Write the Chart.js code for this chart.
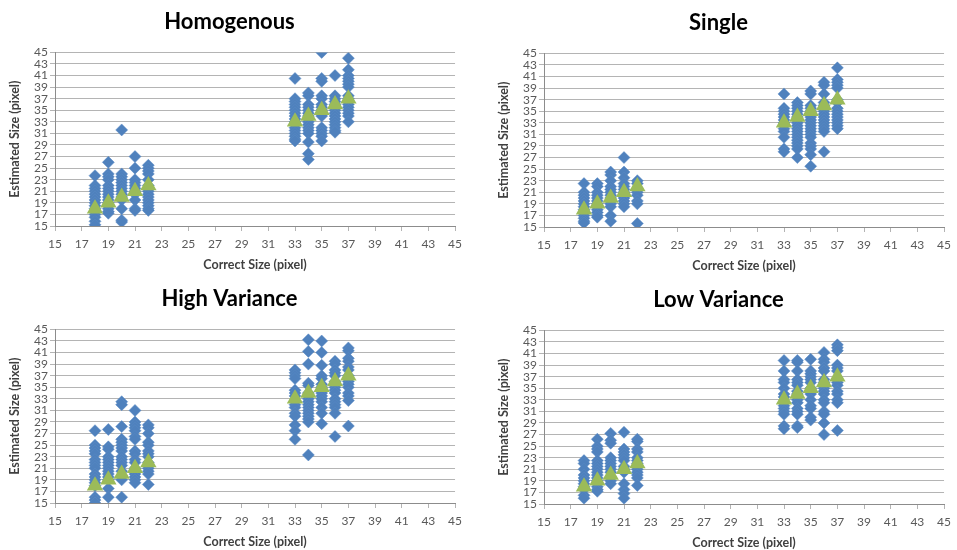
<!DOCTYPE html>
<html>
<head>
<meta charset="utf-8">
<script src="https://cdn.jsdelivr.net/npm/chart.js"></script>
<style>
  html, body { margin: 0; padding: 0; background: #fff; overflow: hidden; }
  body { width: 957px; height: 550px; position: relative; }
  canvas { position: absolute; }
</style>
</head>
<body>
<canvas id="c1" width="468" height="275" style="left:0px;top:0px"></canvas>
<canvas id="c2" width="468" height="275" style="left:489px;top:1px"></canvas>
<canvas id="c3" width="468" height="275" style="left:0px;top:277px"></canvas>
<canvas id="c4" width="468" height="275" style="left:489px;top:278px"></canvas>
<script>
// correct sizes (x) and the estimates
var correctSizes = [18, 19, 20, 21, 22, 33, 34, 35, 36, 37];
var meanEstimates = [18, 19, 20, 21, 22, 33, 34, 35, 36, 37];

var homogenous = [
  [23.7, 22, 21.5, 21, 20.5, 20, 19.5, 19, 18.5, 18, 17, 16.5, 15.8, 15.2],
  [26, 24, 23.5, 23, 22, 21.5, 21, 20.5, 20, 19.5, 19, 18.5, 18, 17.5, 17.2],
  [31.6, 24, 23.5, 23, 22.5, 22, 21.5, 21, 20.5, 20, 19.5, 18, 16, 15.7],
  [27, 25, 23, 22.5, 22, 21.5, 21, 20.5, 19.5, 18, 17.7],
  [25.5, 25, 24.5, 24, 23, 22, 21.5, 21, 20.5, 20, 19.5, 19, 18.5, 18, 17.7],
  [40.5, 37, 36.5, 36, 35.5, 35, 34.5, 34, 33.5, 33, 32, 31.5, 31, 30.5, 30, 29.7],
  [38, 37.5, 36, 35.5, 35, 34.5, 34, 33, 32.5, 32, 31.5, 31, 29.5, 27.5, 26.5],
  [45, 40.5, 40, 37.5, 37, 36, 35.5, 35, 34.5, 34, 32, 31.5, 31, 30.5, 29.7],
  [41, 37.5, 37, 36.5, 36, 35.5, 35, 34.5, 34, 33.5, 33, 32.5, 32, 31.5, 31.2],
  [44, 42, 41, 40.5, 40, 39.5, 39, 37.5, 37, 36.5, 36, 35.5, 35, 34.5, 34, 33]
];

var single = [
  [22.5, 21, 20.5, 20, 19.5, 19, 18.5, 18, 17, 16.5, 16, 15.7],
  [22.5, 22, 21, 20.5, 20, 19.5, 19, 18.5, 18, 17.5, 17, 16.7],
  [24.5, 24, 23, 22, 21.5, 21, 20.5, 20, 19.5, 19, 18.5, 17, 16],
  [27, 24.5, 23.5, 22.5, 22, 21.5, 21, 20.5, 20, 19.5, 19, 18.5],
  [23, 22.5, 21.5, 21, 20.5, 19.5, 19, 15.6],
  [38, 35.5, 35, 34.5, 34, 33.5, 33, 32, 31.5, 30.5, 28.5, 28],
  [36.5, 36, 35.5, 35, 34.5, 34, 33.5, 33, 32.5, 32, 31.5, 31, 30.5, 30, 29.5, 29, 28.5, 27],
  [38.5, 38, 36, 35.5, 35, 34.5, 34, 33.5, 33, 32.5, 32, 31.5, 31, 30.5, 29.5, 29, 28.5, 27.5, 25.5],
  [40, 39.5, 38, 36.5, 36, 35.5, 35, 34.5, 34, 33.5, 33, 32.5, 32, 31.5, 28],
  [42.5, 40.5, 40, 39.5, 39, 37, 36.5, 35.5, 35, 34.5, 34, 33.5, 33, 32.5, 32]
];

var highVariance = [
  [27.5, 25, 24.5, 24, 23.5, 22.5, 22, 21.5, 21, 20, 19.5, 19, 18.5, 18, 16, 15.5, 15],
  [27.7, 24.7, 24.3, 23, 22.5, 22, 21.5, 21, 20.5, 20, 19.5, 19, 17.5, 16],
  [32.5, 32, 28.2, 26, 25.5, 25, 24.5, 24, 23, 22.5, 22, 21.5, 20.5, 19, 16],
  [31, 29, 28.5, 28, 27.5, 26.5, 26, 24, 23.5, 22.5, 22, 21, 20, 19.5, 19, 18.5],
  [28.5, 28, 27, 25.5, 25, 24, 23.5, 23, 22, 21, 20.5, 20, 18.2],
  [38, 37.5, 37, 36.5, 34.5, 34, 33.5, 32, 31.5, 30.5, 30, 28.5, 27.5, 26],
  [43.2, 41.2, 39, 35.7, 35.3, 34, 33, 32.5, 32, 31.5, 31, 30.5, 30, 29.5, 29, 23.3],
  [43, 41, 38.8, 37, 36.5, 35.5, 35, 34, 33.5, 33, 32.5, 31.5, 30.5, 28.7],
  [39.5, 39, 38, 37.5, 37, 36, 35, 34.5, 34, 33, 32.5, 32, 31.5, 30.5, 26.5],
  [41.8, 41.3, 40, 39.5, 38.5, 38, 37, 36, 35.5, 35, 34, 33.5, 32.7, 28.3]
];

var lowVariance = [
  [22.5, 22, 21, 20, 19.5, 19, 18.5, 18, 17.5, 16.5, 16],
  [26.2, 25, 24.5, 24, 22.5, 22, 21.5, 21, 20.5, 20, 19.5, 19, 18, 17.5, 17.2],
  [27.2, 26, 25.5, 23, 22.5, 22, 21.5, 21, 20.5, 19, 18.5],
  [27.4, 24.5, 24, 23.5, 23, 22.5, 21.5, 21, 20.5, 18.5, 17.5, 16.8, 16],
  [26.2, 25.8, 24.5, 24, 23, 22.5, 22, 21, 20.5, 20, 19.5, 18.2],
  [39.8, 38, 36.5, 36, 35, 34, 33.5, 32.5, 32, 31.5, 31, 30.5, 28.5, 28],
  [39.8, 39.5, 38, 36.5, 36, 35.5, 34.5, 34, 33, 32.5, 31.5, 31, 30.5, 28.5, 28.2],
  [40, 38, 37.5, 37, 36.5, 36, 35, 34.5, 34, 33, 32, 31.5, 30, 29.5],
  [41.2, 40, 39.5, 38.5, 38, 36.5, 36, 35, 34.5, 34, 33, 32.5, 31, 30.5, 29, 27],
  [42.5, 42, 41.5, 39, 38.5, 38, 36, 35.5, 34.5, 34, 33, 32.5, 27.7]
];

var panelTitles = ['Homogenous', 'Single', 'High Variance', 'Low Variance'];
var panelData = [homogenous, single, highVariance, lowVariance];

var FONT = 'Lato, "Open Sans", sans-serif';
var GRID = '#b4b4b4';

function toPoints(cols) {
  var pts = [];
  cols.forEach(function(col, i) {
    col.forEach(function(y) { pts.push({x: correctSizes[i], y: y}); });
  });
  return pts;
}

function makeChart(id, title, cols) {
  var means = correctSizes.map(function(x, i) { return {x: x, y: meanEstimates[i]}; });
  return new Chart(document.getElementById(id), {
    type: 'scatter',
    data: {
      datasets: [{
        label: 'Estimated',
        data: toPoints(cols),
        pointStyle: 'rectRot',
        pointRadius: 6,
        backgroundColor: '#4f81bd',
        borderColor: '#5b8bc4',
        borderWidth: 0.5,
        order: 1
      }, {
        label: 'Mean',
        data: means,
        pointStyle: 'triangle',
        pointRadius: 9.5,
        backgroundColor: '#9bbb59',
        borderColor: '#9bbb59',
        borderWidth: 0,
        order: 0
      }]
    },
    options: {
      responsive: false,
      animation: false,
      layout: { padding: { left: 0, right: 9, top: 0, bottom: 0 } },
      plugins: {
        legend: { display: false },
        tooltip: { enabled: false },
        title: {
          display: true,
          text: title,
          color: '#000',
          font: { family: FONT, size: 22, weight: 'bold' },
          padding: { top: 9, bottom: 17 }
        }
      },
      scales: {
        x: {
          type: 'linear',
          min: 15, max: 45,
          afterFit: function(s) { s.height = 49; },
          ticks: { stepSize: 2, autoSkip: false, color: '#595959', padding: 6, font: { family: FONT, size: 12 } },
          grid: { drawOnChartArea: false, drawTicks: true, tickLength: 5, color: GRID },
          border: { color: '#8c8c8c' },
          title: {
            display: true,
            text: 'Correct Size (pixel)',
            color: '#404040',
            font: { family: FONT, size: 12.5, weight: 'bold' },
            padding: { top: 3, bottom: 3 }
          }
        },
        y: {
          type: 'linear',
          min: 15, max: 45,
          afterFit: function(s) { s.width = 55; },
          ticks: { stepSize: 2, autoSkip: false, color: '#595959', padding: 2, font: { family: FONT, size: 12 } },
          grid: { color: GRID, tickLength: 5 },
          border: { color: '#8c8c8c' },
          title: {
            display: true,
            text: 'Estimated Size (pixel)',
            color: '#404040',
            font: { family: FONT, size: 12.5, weight: 'bold' },
            padding: { top: 7, bottom: 0 }
          }
        }
      }
    }
  });
}

['c1', 'c2', 'c3', 'c4'].forEach(function(id, i) {
  makeChart(id, panelTitles[i], panelData[i]);
});
</script>
</body>
</html>
